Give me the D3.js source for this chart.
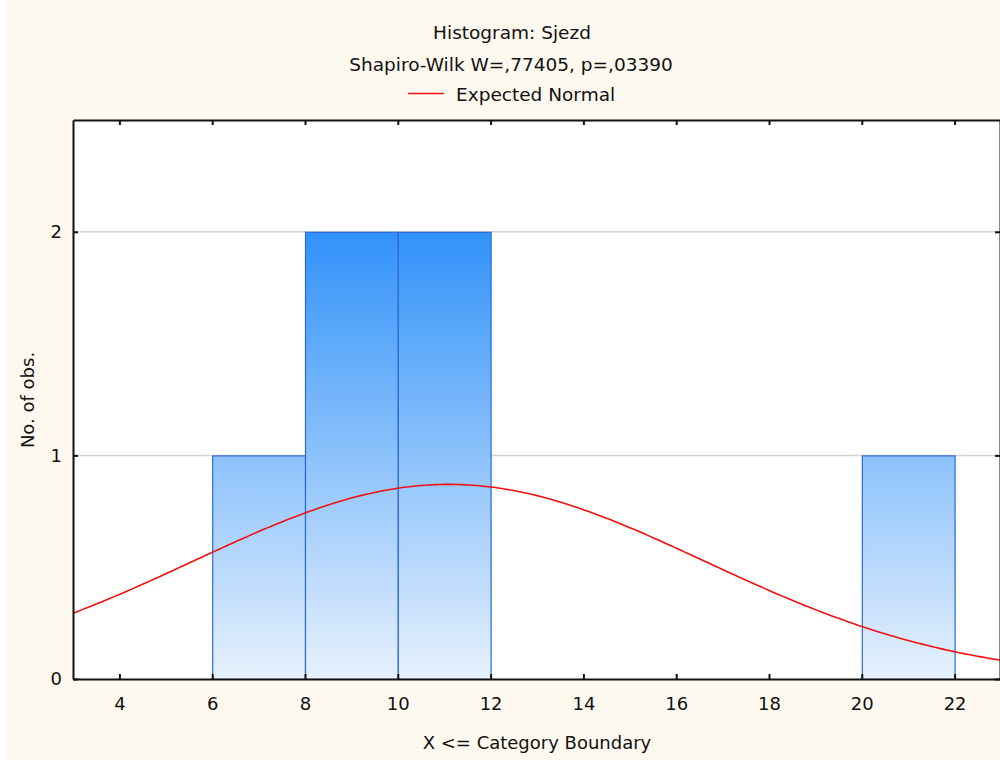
<!DOCTYPE html>
<html>
<head>
<meta charset="utf-8">
<script src="https://cdn.jsdelivr.net/npm/d3@7"></script>
<style>
  html, body { margin: 0; padding: 0; background: #ffffff; }
  svg { display: block; }
  text { font-family: Tahoma, "DejaVu Sans", Verdana, sans-serif; fill: #111; }
</style>
</head>
<body>
<script>
// Histogram bins: lower/upper category boundaries and observed counts
const binLower = [6, 8, 10, 20];
const binUpper = [8, 10, 12, 22];
const binCounts = [1, 2, 2, 1];

// Expected normal curve parameters (sample mean, SD, N, bin width)
const normalMean = 11.1;
const normalSd = 5.5;
const sampleSize = 6;
const binWidth = 2;

const xTicks = [4, 6, 8, 10, 12, 14, 16, 18, 20, 22];
const yTicks = [0, 1, 2];

const titleText = "Histogram: Sjezd";
const subtitleText = "Shapiro-Wilk W=,77405, p=,03390";
const legendText = "Expected Normal";
const xAxisTitle = "X <= Category Boundary";
const yAxisTitle = "No. of obs.";

const W = 1000, H = 760;
const plot = { left: 73, top: 120, right: 1001, bottom: 679 };
const fontStack = 'Tahoma, "DejaVu Sans", Verdana, sans-serif';

const svg = d3.select("body").append("svg")
  .attr("width", W).attr("height", H);

// Page background: narrow white strip at the left, cream elsewhere
svg.append("rect").attr("x", 0).attr("y", 0).attr("width", W).attr("height", H).attr("fill", "#ffffff");
svg.append("rect").attr("x", 6).attr("y", 0).attr("width", W - 6).attr("height", H).attr("fill", "#fef9ef");

const x = d3.scaleLinear().domain([3, 23]).range([plot.left, plot.right]);
const y = d3.scaleLinear().domain([0, 2.5]).range([plot.bottom, plot.top]);

const defs = svg.append("defs");
const grad = defs.append("linearGradient")
  .attr("id", "barFill")
  .attr("gradientUnits", "userSpaceOnUse")
  .attr("x1", 0).attr("x2", 0)
  .attr("y1", y(2)).attr("y2", y(0));
grad.append("stop").attr("offset", "0%").attr("stop-color", "#3192f9");
grad.append("stop").attr("offset", "100%").attr("stop-color", "#e7f1fd");

defs.append("clipPath").attr("id", "plotClip")
  .append("rect")
  .attr("x", plot.left).attr("y", plot.top)
  .attr("width", plot.right - plot.left).attr("height", plot.bottom - plot.top);

// Plot area
svg.append("rect")
  .attr("x", plot.left).attr("y", plot.top)
  .attr("width", plot.right - plot.left).attr("height", plot.bottom - plot.top)
  .attr("fill", "#ffffff");

// Horizontal gridlines
svg.append("g").selectAll("line")
  .data(yTicks.filter(d => d > 0))
  .join("line")
  .attr("x1", plot.left).attr("x2", plot.right)
  .attr("y1", d => y(d)).attr("y2", d => y(d))
  .attr("stroke", "#d4d4d4").attr("stroke-width", 1.5);

const bins = binCounts.map((c, i) => ({ lo: binLower[i], hi: binUpper[i], n: c }));

// Bars
const gBars = svg.append("g").attr("clip-path", "url(#plotClip)");
gBars.selectAll("rect")
  .data(bins)
  .join("rect")
  .attr("x", d => x(d.lo) + 0.5)
  .attr("y", d => y(d.n) + 0.5)
  .attr("width", d => x(d.hi) - x(d.lo))
  .attr("height", d => y(0) - y(d.n))
  .attr("fill", "url(#barFill)")
  .attr("stroke", "#2b6ad8")
  .attr("stroke-width", 1.2);

// Expected normal curve: N * binWidth * pdf(x)
const pdf = v => Math.exp(-0.5 * ((v - normalMean) / normalSd) ** 2) / (normalSd * Math.sqrt(2 * Math.PI));
const curveXs = d3.range(3, 23.0001, 0.1);
const curve = d3.line()
  .x(d => x(d))
  .y(d => y(sampleSize * binWidth * pdf(d)))
  .curve(d3.curveMonotoneX);
svg.append("path")
  .attr("clip-path", "url(#plotClip)")
  .attr("d", curve(curveXs))
  .attr("fill", "none")
  .attr("stroke", "#f01010")
  .attr("stroke-width", 1.6);

// Axes with inward ticks
const axisFont = "18px";
const gx = svg.append("g").attr("transform", `translate(0,${plot.bottom})`)
  .call(d3.axisBottom(x).tickValues(xTicks).tickSizeInner(-5).tickSizeOuter(0).tickPadding(18));
const gxTop = svg.append("g").attr("transform", `translate(0,${plot.top})`)
  .call(d3.axisTop(x).tickValues(xTicks).tickSizeInner(-5).tickSizeOuter(0).tickFormat(""));
const gy = svg.append("g").attr("transform", `translate(${plot.left},0)`)
  .call(d3.axisLeft(y).tickValues(yTicks).tickFormat(d3.format("d"))
    .tickSizeInner(-5).tickSizeOuter(0).tickPadding(11));
const gyR = svg.append("g").attr("transform", `translate(${plot.right - 1},0)`)
  .call(d3.axisRight(y).tickValues(yTicks).tickSizeInner(-5).tickSizeOuter(0).tickFormat(""));

[gx, gxTop, gy, gyR].forEach(g => {
  g.select(".domain").attr("stroke", "#111").attr("stroke-width", 2);
  g.selectAll(".tick line").attr("stroke", "#111").attr("stroke-width", 2);
  g.selectAll(".tick text")
    .style("font-family", fontStack)
    .style("font-size", axisFont).attr("fill", "#111");
});

// Titles
svg.append("text").attr("x", 512).attr("y", 39).attr("text-anchor", "middle")
  .style("font-size", "18.5px").text(titleText);
svg.append("text").attr("x", 511).attr("y", 71).attr("text-anchor", "middle")
  .style("font-size", "18.5px").text(subtitleText);

// Legend
svg.append("line").attr("x1", 408).attr("x2", 444).attr("y1", 93.5).attr("y2", 93.5)
  .attr("stroke", "#f01010").attr("stroke-width", 1.6);
svg.append("text").attr("x", 456).attr("y", 101)
  .style("font-size", "18.5px").text(legendText);

// Axis titles
svg.append("text").attr("x", 537).attr("y", 749).attr("text-anchor", "middle")
  .style("font-size", "18px").text(xAxisTitle);
svg.append("text")
  .attr("transform", `translate(34,400) rotate(-90)`)
  .attr("text-anchor", "middle")
  .style("font-size", "18px").text(yAxisTitle);
</script>
</body>
</html>
